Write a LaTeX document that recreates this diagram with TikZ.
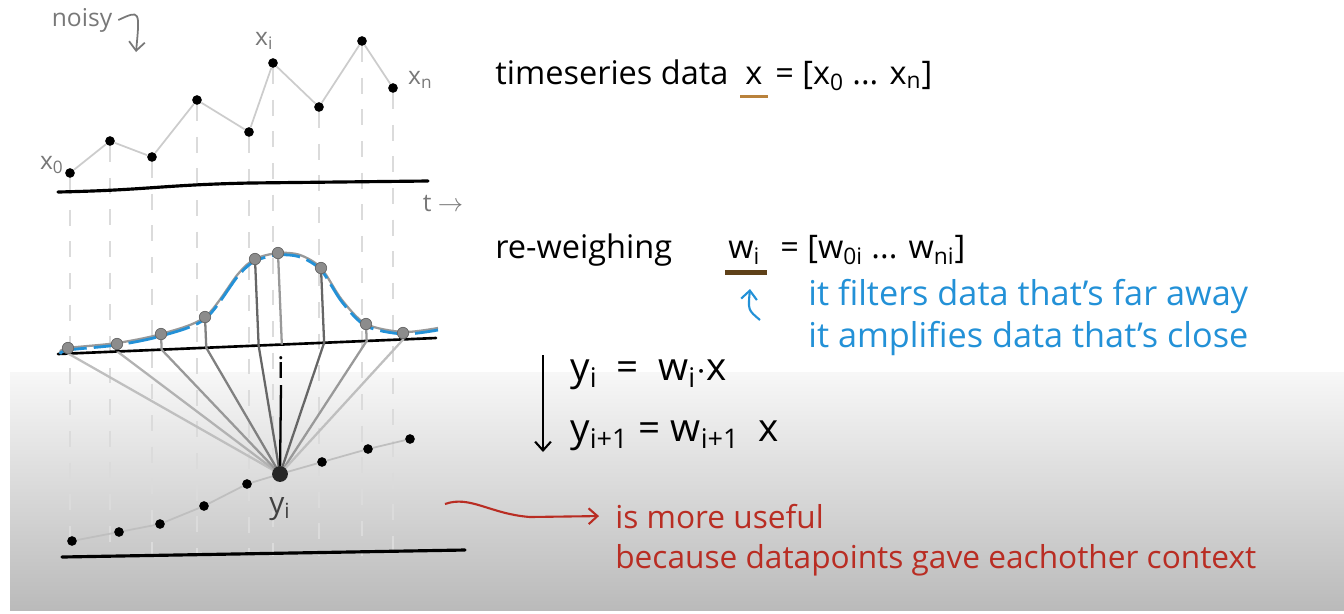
\documentclass[tikz,border=0pt]{standalone}
\usepackage{fontspec}
\setmainfont{Open Sans}
\usetikzlibrary{arrows.meta,positioning,calc}
\definecolor{inkgray}   {RGB}{120,120,120}
\definecolor{weightblue}{RGB}{ 35,145,215}
\definecolor{notered}   {RGB}{185, 45, 35}
\definecolor{xbrown}    {RGB}{185,130, 60}
\definecolor{wbrown}    {RGB}{ 95, 65, 25}

\begin{document}
\begin{tikzpicture}[x=0.02cm,y=-0.02cm,
  every node/.style={font=\fontsize{17}{20}\selectfont},
  dot/.style={circle,fill=black,inner sep=0pt,minimum size=5.5pt},
  wdot/.style={circle,fill=black!45,draw=black!60,inner sep=0pt,minimum size=6.5pt},
  guide/.style={black!14,line width=0.9pt,dash pattern=on 9pt off 9pt},
  link/.style={black!20,line width=1pt},
  axis/.style={black,line width=1.8pt,line cap=round},
  lbl/.style={inkgray,font=\fontsize{14}{16}\selectfont},
  txt/.style={anchor=base west,inner sep=0pt,font=\fontsize{18.5}{22}\selectfont},
  eqtxt/.style={txt,font=\fontsize{22}{25}\selectfont},
  bluetxt/.style={txt,weightblue,font=\fontsize{19.5}{23}\selectfont},
  redtxt/.style={txt,notered,font=\fontsize{18}{21}\selectfont},
  arr/.style={-{Straight Barb[length=5pt,width=9pt]},line width=1.2pt},
]
\useasboundingbox (0,0) rectangle (1344,613);
\shade[top color=black!3,bottom color=black!27] (10,372) rectangle (1344,610);

%% -- noisy timeseries x ------------------------------------------------
\node[lbl] (noisy) at (82,20) {noisy};
\coordinate (noisytip) at (136,52);
\draw[arr,inkgray,line width=1pt] (noisy.east) .. controls (140,10) .. (noisytip);

\coordinate (floor) at (0,556);
\foreach \n/\px/\py in {0/70/173,1/110/141,2/152/157,3/197/100,4/249/132,
                        5/273/63,6/319/107,7/362/41,8/393/88}
  \node[dot] (x\n) at (\px,\py) {};
\foreach \n in {0,...,8}
  \draw[guide] (x\n.south) -- (x\n |- floor);
\foreach \n [count=\m from 1] in {0,...,7}
  \draw[link] (x\n) -- (x\m);
\node[lbl,above left=-6pt and -2pt of x0] (lx0) {x\textsubscript{0}};
\node[lbl,above=1pt of x5,xshift=-5pt] (lxi) {x\textsubscript{i}};
\node[lbl,above right=-6pt and 3pt of x8] (lxn) {x\textsubscript{n}};

\draw[axis] (58,192) .. controls (150,190) and (160,185) .. (250,183) -- (428,181);
\node[lbl] (tlabel) at (443,204) {t $\rightarrow$};

%% -- smoothed y (points first, the fan ends on y5) ---------------------
\foreach \n/\px/\py in {0/72/541,1/119/532,2/160/524,3/204/506,4/247/484,
                        5/280/474,6/322/462,7/368/449,8/410/439}
  \node[dot] (y\n) at (\px,\py) {};
\foreach \n [count=\m from 1] in {0,...,7}
  \draw[link,black!25] (y\n) -- (y\m);

%% -- re-weighing w_i ---------------------------------------------------
\coordinate (ml) at (58,354);
\coordinate (mr) at (436,338);
\draw[axis,line width=1.5pt] (ml) -- (mr);

\foreach \n/\px/\py in {0/68/348,1/117/344,2/161/334,3/205/317,4/255/259,
                        5/278/253,6/321/268,7/366/324,8/403/333}
  \coordinate (w\n) at (\px,\py);

\foreach \n/\c in {0/25,1/30,2/40,3/50,4/60,6/60,7/40,8/25}
  \draw[black!\c,line width=1.3pt] (w\n) -- ($(ml)!(w\n)!(mr)$) -- (y5);
\draw[black!40,line width=1.3pt] (w5) -- ($(ml)!(w5)!(mr)$);
\draw[black,line width=2.2pt] (w1) -- ($(ml)!(w1)!(mr)$);

\draw[black!40,line width=1.3pt] plot[smooth] coordinates {(60,352) (68,348) (117,343)
  (161,334) (205,317) (238,274) (255,259) (278,253) (300,255) (321,268)
  (342,300) (366,324) (403,332) (438,328)};
\draw[weightblue,line width=1.6pt,dash pattern=on 16pt off 4pt] plot[smooth] coordinates
  {(60,354) (68,350) (117,345) (161,336) (205,319) (238,276) (255,261) (278,255)
  (300,257) (321,270) (342,302) (366,326) (403,334) (438,330)};
\foreach \n in {0,...,8}
  \node[wdot] (wd\n) at (w\n) {};

\node[dot,minimum size=9pt,fill=black!85] (ybig) at (y5) {};
\node (inode) at (281,368) {i};
\draw[black,line width=1.3pt] (inode.south) -- (ybig);
\node[black!75,below=5pt of ybig] (lyi) {y\textsubscript{i}};
\draw[axis] (62,557) -- (465,550);

%% -- notes -------------------------------------------------------------
\node[txt] (tsdata) at (495,84) {timeseries data};
\node[txt] (xvec) at (745,84) {x};
\node[txt] (xlist) at (775,84) {= [x\textsubscript{0} ... x\textsubscript{n}]};
\draw[xbrown,line width=2pt] ($(xvec.south west)+(-5,12)$) -- ($(xvec.south east)+(5,12)$);

\node[txt] (reweigh) at (495,258) {re-weighing};
\node[txt] (wvec) at (728,258) {w\textsubscript{i}};
\node[txt] (wlist) at (780,258) {= [w\textsubscript{0i} ... w\textsubscript{ni}]};
\draw[wbrown,line width=2.5pt] ($(wvec.south west)+(-3,8)$) -- ($(wvec.south east)+(6,8)$);

\node[bluetxt] (filters) at (808,305) {it filters data that's far away};
\node[bluetxt] (amplify) at (808,347) {it amplifies data that's close};
\coordinate (bluetail) at (760,320);
\coordinate (bluetip) at (750,289);
\draw[arr,weightblue] (bluetail) .. controls (748,310) .. (bluetip);

\node[eqtxt] (eqa) at (570,380) {y\textsubscript{i}\enspace=\enspace w\textsubscript{i}$\cdot$x};
\node[eqtxt] (eqb) at (570,441) {y\textsubscript{i+1} = w\textsubscript{i+1}\enspace x};
\coordinate (downtop) at (543,355);
\coordinate (downtip) at (543,452);
\draw[arr] (downtop) -- (downtip);

\node[redtxt] (useful) at (615,528) {is more useful};
\node[redtxt] (context) at (615,568) {because datapoints gave eachother context};
\coordinate (redtail) at (445,504);
\draw[arr,notered] (redtail) .. controls (470,495) and (490,514) .. (530,517)
  -- ($(useful.west)+(-16,0)$);

\end{tikzpicture}
\end{document}
